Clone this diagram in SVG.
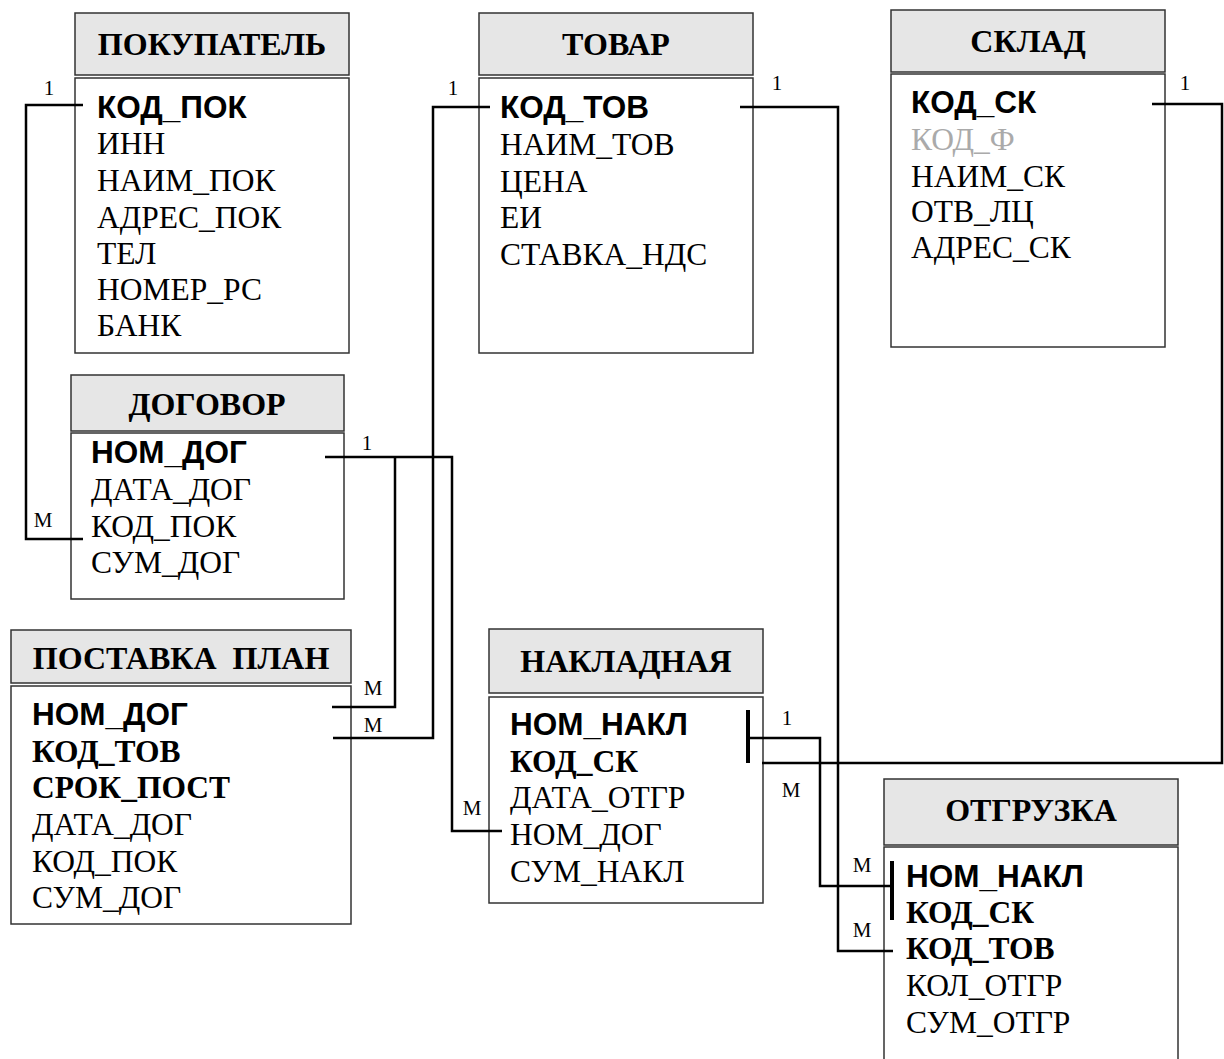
<svg xmlns="http://www.w3.org/2000/svg" width="1224" height="1059" viewBox="0 0 1224 1059">
<style>
.hdr{fill:#e6e6e6;stroke:#333;stroke-width:1.5}
.body{fill:#fff;stroke:#333;stroke-width:1.5}
.title{font-family:"Liberation Serif",serif;font-weight:bold;font-size:32px;text-anchor:middle;fill:#000}
.f{font-family:"Liberation Serif",serif;font-size:31.5px;fill:#000}
.ka{font-family:"Liberation Sans",sans-serif;font-weight:bold;font-size:31.5px;fill:#000}
.kt{font-family:"Liberation Serif",serif;font-weight:bold;font-size:31.5px;fill:#000}
.grey{fill:#aaa}
.lbl{font-family:"Liberation Serif",serif;font-size:21px;text-anchor:middle;fill:#000}
.conn{fill:none;stroke:#000;stroke-width:2.5}
.bar{fill:none;stroke:#000;stroke-width:4}
</style>
<rect width="1224" height="1059" fill="#fff"/>
<g id="pokupatel">
<rect class="hdr" x="75" y="13" width="274" height="62"/>
<rect class="body" x="75" y="78" width="274" height="275"/>
<text class="title" x="212" y="55">ПОКУПАТЕЛЬ</text>
<text class="ka" x="97" y="118">КОД_ПОК</text>
<text class="f" x="97" y="154">ИНН</text>
<text class="f" x="97" y="191">НАИМ_ПОК</text>
<text class="f" x="97" y="228">АДРЕС_ПОК</text>
<text class="f" x="97" y="264">ТЕЛ</text>
<text class="f" x="97" y="300">НОМЕР_РС</text>
<text class="f" x="97" y="336">БАНК</text>
</g>
<g id="tovar">
<rect class="hdr" x="479" y="13" width="274" height="62"/>
<rect class="body" x="479" y="78" width="274" height="275"/>
<text class="title" x="616" y="55">ТОВАР</text>
<text class="ka" x="500" y="118">КОД_ТОВ</text>
<text class="f" x="500" y="155">НАИМ_ТОВ</text>
<text class="f" x="500" y="192">ЦЕНА</text>
<text class="f" x="500" y="228">ЕИ</text>
<text class="f" x="500" y="265">СТАВКА_НДС</text>
</g>
<g id="sklad">
<rect class="hdr" x="891" y="10" width="274" height="62"/>
<rect class="body" x="891" y="74" width="274" height="273"/>
<text class="title" x="1028" y="52">СКЛАД</text>
<text class="ka" x="911" y="113">КОД_СК</text>
<text class="f grey" x="911" y="150">КОД_Ф</text>
<text class="f" x="911" y="187">НАИМ_СК</text>
<text class="f" x="911" y="222">ОТВ_ЛЦ</text>
<text class="f" x="911" y="258">АДРЕС_СК</text>
</g>
<g id="dogovor">
<rect class="hdr" x="71" y="375" width="273" height="56"/>
<rect class="body" x="71" y="433" width="273" height="166"/>
<text class="title" x="207" y="415">ДОГОВОР</text>
<text class="ka" x="91" y="463">НОМ_ДОГ</text>
<text class="f" x="91" y="500">ДАТА_ДОГ</text>
<text class="f" x="91" y="537">КОД_ПОК</text>
<text class="f" x="91" y="573">СУМ_ДОГ</text>
</g>
<g id="postavka_plan">
<rect class="hdr" x="11" y="630" width="340" height="53"/>
<rect class="body" x="11" y="686" width="340" height="238"/>
<text class="title" x="181" y="669">ПОСТАВКА&#160; ПЛАН</text>
<text class="ka" x="32" y="725">НОМ_ДОГ</text>
<text class="kt" x="32" y="762">КОД_ТОВ</text>
<text class="kt" x="32" y="798">СРОК_ПОСТ</text>
<text class="f" x="32" y="835">ДАТА_ДОГ</text>
<text class="f" x="32" y="872">КОД_ПОК</text>
<text class="f" x="32" y="908">СУМ_ДОГ</text>
</g>
<g id="nakladnaya">
<rect class="hdr" x="489" y="629" width="274" height="64"/>
<rect class="body" x="489" y="697" width="274" height="206"/>
<text class="title" x="626" y="672">НАКЛАДНАЯ</text>
<text class="ka" x="510" y="735">НОМ_НАКЛ</text>
<text class="kt" x="510" y="772">КОД_СК</text>
<text class="f" x="510" y="808">ДАТА_ОТГР</text>
<text class="f" x="510" y="845">НОМ_ДОГ</text>
<text class="f" x="510" y="882">СУМ_НАКЛ</text>
</g>
<g id="otgruzka">
<rect class="hdr" x="884" y="779" width="294" height="66"/>
<rect class="body" x="884" y="847" width="294" height="220"/>
<text class="title" x="1031" y="821">ОТГРУЗКА</text>
<text class="ka" x="906" y="887">НОМ_НАКЛ</text>
<text class="kt" x="906" y="923">КОД_СК</text>
<text class="kt" x="906" y="959">КОД_ТОВ</text>
<text class="f" x="906" y="996">КОЛ_ОТГР</text>
<text class="f" x="906" y="1033">СУМ_ОТГР</text>
</g>
<g id="connectors">
<path class="conn" d="M83,105 H26 V539 H83"/>
<path class="conn" d="M490,107 H433 V738 H333"/>
<path class="conn" d="M740,107 H838 V951 H893"/>
<path class="conn" d="M1152,104 H1222 V763 H762"/>
<path class="conn" d="M325,457 H452 V831 H502"/>
<path class="conn" d="M395,457 V707 H332"/>
<path class="conn" d="M748,738 H820 V886 H892"/>
<path class="bar" d="M748,710 V763"/>
<path class="bar" d="M892,861 V920"/>
<text class="lbl" x="49" y="95">1</text>
<text class="lbl" x="43" y="527">М</text>
<text class="lbl" x="453" y="95">1</text>
<text class="lbl" x="373" y="732">М</text>
<text class="lbl" x="777" y="90">1</text>
<text class="lbl" x="862" y="937">М</text>
<text class="lbl" x="1185" y="90">1</text>
<text class="lbl" x="791" y="797">М</text>
<text class="lbl" x="367" y="450">1</text>
<text class="lbl" x="373" y="695">М</text>
<text class="lbl" x="472" y="815">М</text>
<text class="lbl" x="787" y="725">1</text>
<text class="lbl" x="862" y="872">М</text>
</g>
</svg>
